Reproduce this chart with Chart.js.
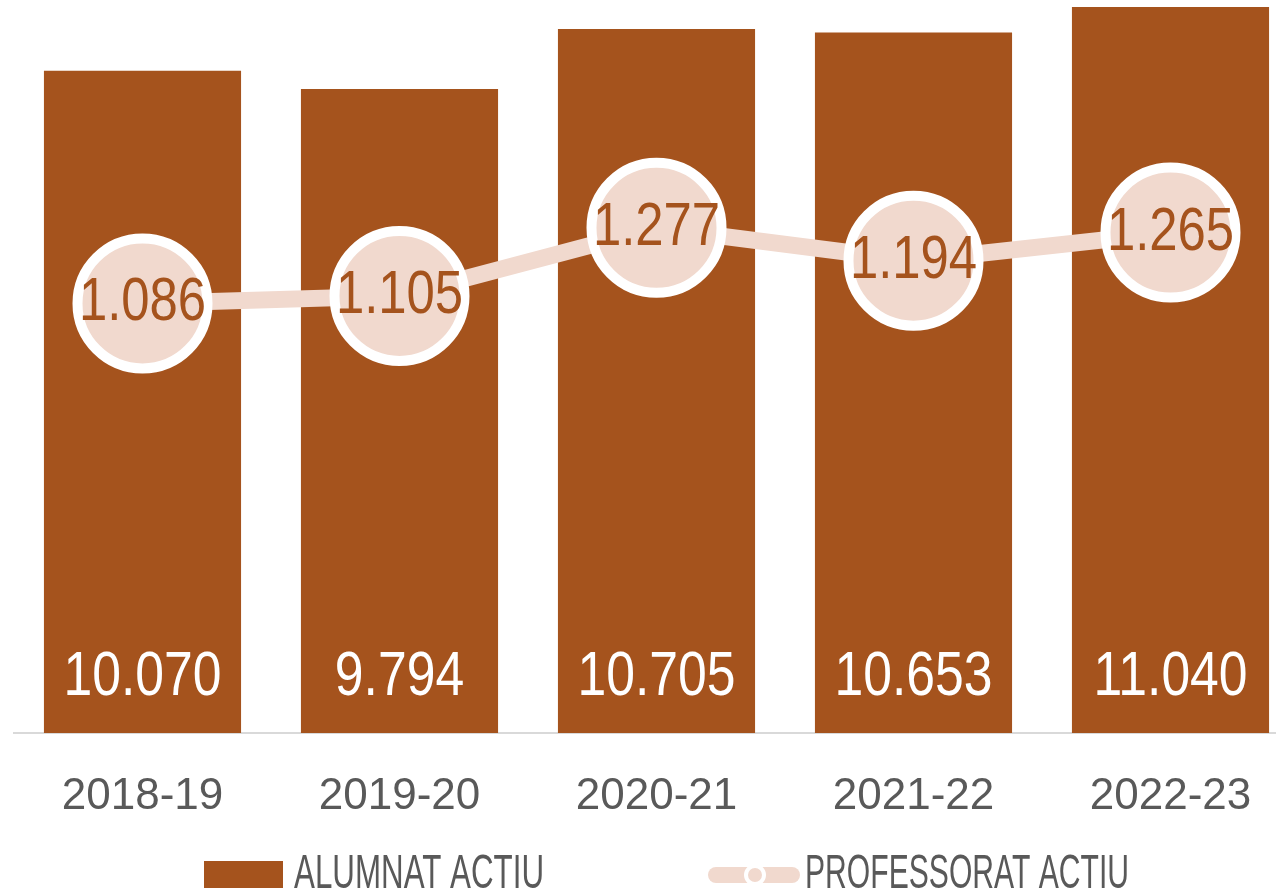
<!DOCTYPE html>
<html>
<head>
<meta charset="utf-8">
<script src="https://cdn.jsdelivr.net/npm/chart.js@4/dist/chart.umd.min.js"></script>
<style>
  html, body { margin: 0; padding: 0; background: #fff; overflow: hidden; }
  #wrap { position: relative; width: 1300px; height: 888px; }
</style>
</head>
<body>
<div id="wrap"><canvas id="combo-chart"></canvas></div>
<script>
var years = ['2018-19', '2019-20', '2020-21', '2021-22', '2022-23'];
var alumnat = [10070, 9794, 10705, 10653, 11040];
var professorat = [1086, 1105, 1277, 1194, 1265];
var seriesNames = ['ALUMNAT ACTIU', 'PROFESSORAT ACTIU'];

var BROWN = '#A5531D';
var PEACH = '#F1D9CE';
var GREY = '#595959';
var FONT = '"Liberation Sans", Arial, sans-serif';
var NARROW = 0.82; // Liberation Sans squeezed to "narrow" proportions

function fmt(v) {
    return String(v).replace(/\B(?=(\d{3})+(?!\d))/g, '.');
}

// draws text squeezed horizontally, either by a fixed factor or to fit a width
function squeezeText(ctx, text, x, y, factor, width) {
    var sx = factor;
    if (width) {
        sx = width / ctx.measureText(text).width;
    }
    ctx.save();
    ctx.translate(x, y);
    ctx.scale(sx, 1);
    ctx.fillText(text, 0, 0);
    ctx.restore();
}

var valueLabels = {
    id: 'valueLabels',
    afterDatasetsDraw: function (chart) {
        var ctx = chart.ctx;
        ctx.save();
        ctx.textAlign = 'center';

        // bar values, white, near the bottom of each bar
        ctx.font = '63px ' + FONT;
        ctx.fillStyle = '#ffffff';
        ctx.textBaseline = 'alphabetic';
        chart.getDatasetMeta(1).data.forEach(function (bar, i) {
            squeezeText(ctx, fmt(alumnat[i]), bar.x, chart.chartArea.bottom - 38, NARROW);
        });

        // line values, brown, in the circles
        ctx.font = '62px ' + FONT;
        ctx.fillStyle = BROWN;
        ctx.textBaseline = 'middle';
        chart.getDatasetMeta(0).data.forEach(function (pt, i) {
            squeezeText(ctx, fmt(professorat[i]), pt.x, pt.y, NARROW);
        });
        ctx.restore();
    }
};

var bottomLegend = {
    id: 'bottomLegend',
    afterDraw: function (chart) {
        var ctx = chart.ctx;
        ctx.save();
        ctx.font = '48px ' + FONT;
        ctx.textBaseline = 'alphabetic';
        ctx.textAlign = 'left';

        ctx.fillStyle = BROWN;
        ctx.fillRect(204, 861, 79, 30);
        ctx.fillStyle = GREY;
        squeezeText(ctx, seriesNames[0], 294, 888, 1, 250);

        ctx.strokeStyle = PEACH;
        ctx.lineWidth = 16;
        ctx.lineCap = 'round';
        ctx.beginPath();
        ctx.moveTo(716, 875);
        ctx.lineTo(792, 875);
        ctx.stroke();
        ctx.beginPath();
        ctx.arc(755, 875, 9, 0, Math.PI * 2);
        ctx.fillStyle = PEACH;
        ctx.fill();
        ctx.lineWidth = 4;
        ctx.strokeStyle = '#ffffff';
        ctx.stroke();

        ctx.fillStyle = GREY;
        squeezeText(ctx, seriesNames[1], 805, 888, 1, 324);
        ctx.restore();
    }
};

var ctx = document.getElementById('combo-chart');

new Chart(ctx, {
    data: {
        labels: years,
        datasets: [{
            type: 'line',
            label: seriesNames[1],
            data: professorat,
            yAxisID: 'y1',
            order: 0,
            borderColor: PEACH,
            borderWidth: 17,
            pointRadius: 65,
            pointHoverRadius: 65,
            pointBackgroundColor: PEACH,
            pointBorderColor: '#ffffff',
            pointBorderWidth: 10,
            tension: 0,
            clip: false
        }, {
            type: 'bar',
            label: seriesNames[0],
            data: alumnat,
            yAxisID: 'y',
            order: 1,
            backgroundColor: BROWN,
            categoryPercentage: 1,
            barPercentage: 0.767
        }]
    },
    options: {
        responsive: true,
        maintainAspectRatio: false,
        animation: false,
        layout: { autoPadding: false, padding: { left: 14, right: 1, top: 0, bottom: 0 } },
        plugins: {
            legend: { display: false },
            tooltip: { enabled: false }
        },
        scales: {
            x: {
                grid: { display: false, drawTicks: false },
                border: { display: true, color: '#D9D9D9', width: 2 },
                ticks: {
                    color: GREY,
                    padding: 37,
                    font: { family: FONT, size: 44 }
                },
                afterFit: function (scale) { scale.height = 155; }
            },
            y: { display: false, min: 0, max: 11147 },
            y1: { display: false, min: 0, max: 1853 }
        }
    },
    plugins: [valueLabels, bottomLegend]
});
</script>
</body>
</html>
